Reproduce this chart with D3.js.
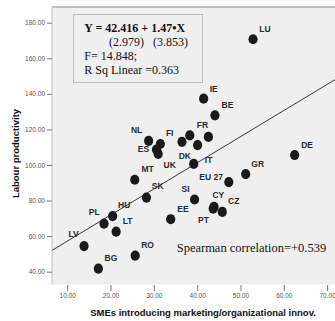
<!DOCTYPE html>
<html>
<head>
<meta charset="utf-8">
<script src="https://cdn.jsdelivr.net/npm/d3@7/dist/d3.min.js"></script>
<style>
  html, body { margin: 0; padding: 0; background: #ffffff; }
  svg { display: block; }
  .keep-space { white-space: pre; }
</style>
</head>
<body>
<svg id="chart" width="335" height="321"></svg>
<script>
// Country codes, share of SMEs introducing marketing/organizational innovation (%),
// and labour productivity index.
const countries = ["LU","IE","BE","FR","DE","GR","EU 27","MT","SK","SI","CY","CZ","PT","EE",
  "HU","PL","LT","LV","RO","BG","DK","NL","AT","ES","UK","FI","SE","IT"];
const smeShare = [52.9, 41.5, 44.1, 42.6, 62.5, 51.2, 47.3, 25.6, 28.3, 39.4, 43.9, 45.8, 43.7, 33.9,
  20.5, 18.5, 21.3, 13.9, 25.7, 17.2, 39.2, 28.8, 31.5, 30.6, 31.0, 36.5, 38.3, 40.1];
const productivity = [170.7, 137.3, 127.9, 115.8, 105.6, 94.9, 90.4, 91.7, 81.7, 80.6, 76.5, 73.6, 75.5, 69.5,
  71.3, 67.0, 62.5, 54.4, 49.0, 41.7, 100.6, 113.6, 111.8, 108.7, 106.2, 113.0, 116.6, 111.2];
// Countries drawn without a text label
const unlabeled = ["AT", "SE"];

// Axis ticks
const xTicks = [10, 20, 30, 40, 50, 60, 70];
const yTicks = [40, 60, 80, 100, 120, 140, 160, 180];

// Fitted linear model and statistics
const intercept = 42.416;
const slope = 1.47;
const fitLines = [
  { text: "Y = 42.416 + 1.47•X", bold: true },
  { text: "(2.979)   (3.853)", bold: false, indent: true },
  { text: "F= 14.848;", bold: false },
  { text: "R Sq Linear =0.363", bold: false }
];
const spearmanText = "Spearman correlation=+0.539";

// Label placement relative to each point (pixels), same order as countries
const labelDx = [12, 10, 12.5, -6, 12.5, 12, -17.7, 12.8, 11.3, -9, 4.3, 11.5, -9.7, 12.3,
  11.5, -9.8, 11.4, -10.5, 12.4, 12.6, -8.8, -12, 0, -13, 11.5, -12.3, 0, 11];
const labelDy = [-10, -10, -10, -12, -10, -10, -5.3, -10.4, -11.2, -10.5, -12.2, -10.7, 11, -10.3,
  -11, -11.4, -10.9, -12, -10.7, -10.4, -7.7, -10.8, 0, 0, 11.5, -8.8, 0, 14.5];

const svg = d3.select("#chart");
const plot = { left: 52, right: 354, top: 7, bottom: 284.5 };

const x = d3.scaleLinear().domain([6.5, 76.2]).range([plot.left, plot.right]);
const y = d3.scaleLinear().domain([32.8, 188.83]).range([plot.bottom, plot.top]);

const points = countries.map((c, i) => ({
  code: c, sx: smeShare[i], py: productivity[i], dx: labelDx[i], dy: labelDy[i]
}));

// Plot background
svg.append("rect")
  .attr("x", plot.left).attr("y", plot.top)
  .attr("width", plot.right - plot.left).attr("height", plot.bottom - plot.top)
  .attr("fill", "#efefef");

// Top frame line
svg.append("line")
  .attr("x1", plot.left).attr("x2", plot.right)
  .attr("y1", plot.top).attr("y2", plot.top)
  .attr("stroke", "#8a8a8a").attr("stroke-width", 1.2);

// Left axis line
svg.append("line")
  .attr("x1", plot.left).attr("x2", plot.left)
  .attr("y1", plot.top).attr("y2", plot.bottom)
  .attr("stroke", "#c4c4c4").attr("stroke-width", 1);

// Axes
const xAxis = svg.append("g")
  .attr("transform", `translate(0,${plot.bottom})`)
  .call(d3.axisBottom(x).tickValues(xTicks).tickFormat(d3.format(".2f"))
    .tickSizeInner(6).tickSizeOuter(0).tickPadding(3));
xAxis.select(".domain").remove();
xAxis.selectAll(".tick line").attr("stroke", "#777").attr("transform", "translate(0,0.5)");
xAxis.selectAll(".tick text")
  .attr("fill", "#555").attr("font-size", "6.5px").attr("font-family", "Liberation Sans, Arial, sans-serif");

const yAxis = svg.append("g")
  .attr("transform", `translate(${plot.left},0)`)
  .call(d3.axisLeft(y).tickValues(yTicks).tickFormat(d3.format(".2f"))
    .tickSizeInner(5).tickSizeOuter(0).tickPadding(2));
yAxis.select(".domain").remove();
yAxis.selectAll(".tick line").attr("stroke", "#777");
yAxis.selectAll(".tick text")
  .attr("fill", "#555").attr("font-size", "6.5px").attr("font-family", "Liberation Sans, Arial, sans-serif");

// Axis titles
svg.append("text")
  .attr("x", 203).attr("y", 316)
  .attr("text-anchor", "middle")
  .attr("font-family", "Liberation Sans, Arial, sans-serif")
  .attr("font-weight", "bold").attr("font-size", "9.5px").attr("fill", "#111")
  .text("SMEs introducing marketing/organizational innov.");

svg.append("text")
  .attr("transform", "translate(19,153.5) rotate(-90)")
  .attr("text-anchor", "middle")
  .attr("font-family", "Liberation Sans, Arial, sans-serif")
  .attr("font-weight", "bold").attr("font-size", "9.5px").attr("fill", "#111")
  .text("Labour productivity");

// Fit line across the plot
svg.append("clipPath").attr("id", "plotClip")
  .append("rect").attr("x", plot.left).attr("y", plot.top)
  .attr("width", plot.right - plot.left).attr("height", plot.bottom - plot.top);
const xd = x.domain();
svg.append("line")
  .attr("clip-path", "url(#plotClip)")
  .attr("x1", x(xd[0])).attr("y1", y(intercept + slope * xd[0]))
  .attr("x2", x(xd[1])).attr("y2", y(intercept + slope * xd[1]))
  .attr("stroke", "#222").attr("stroke-width", 0.9);

// Points
svg.append("g").selectAll("ellipse")
  .data(points).join("ellipse")
  .attr("cx", d => x(d.sx)).attr("cy", d => y(d.py))
  .attr("rx", 4.6).attr("ry", 5.1)
  .attr("fill", "#1a1a1a");

// Point labels
svg.append("g").selectAll("text")
  .data(points.filter(d => !unlabeled.includes(d.code))).join("text")
  .attr("x", d => x(d.sx) + d.dx).attr("y", d => y(d.py) + d.dy)
  .attr("dy", "0.35em")
  .attr("text-anchor", "middle")
  .attr("font-family", "Liberation Sans, Arial, sans-serif")
  .attr("font-weight", "bold").attr("font-size", "8.5px").attr("fill", "#2a2a2a")
  .text(d => d.code);

// Model summary box
svg.append("rect")
  .attr("x", 73.5).attr("y", 14.5).attr("width", 129).attr("height", 68)
  .attr("fill", "#efefef").attr("stroke", "#bdbdbd").attr("stroke-width", 1);

const baselines = [31.5, 45.5, 60, 74];
svg.append("g").selectAll("text")
  .data(fitLines).join("text")
  .attr("class", "keep-space")
  .attr("x", d => d.indent ? 109 : 84.3)
  .attr("y", (d, i) => baselines[i])
  .attr("font-family", "Liberation Serif, Times New Roman, serif")
  .attr("font-size", "12px")
  .attr("font-weight", d => d.bold ? "bold" : "normal")
  .attr("fill", "#111")
  .text(d => d.text);

svg.append("text")
  .attr("x", 176.7).attr("y", 251.5)
  .attr("font-family", "Liberation Serif, Times New Roman, serif")
  .attr("font-size", "12.5px").attr("fill", "#111")
  .text(spearmanText);
</script>
</body>
</html>
